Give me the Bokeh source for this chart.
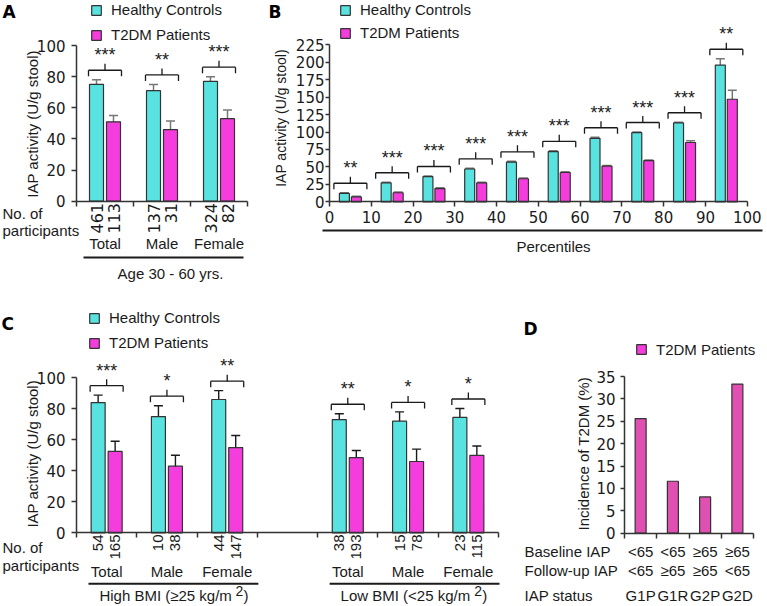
from math import pi
from bokeh.plotting import figure
from bokeh.models import (ColumnDataSource, LinearAxis, FixedTicker, Range1d,
                          Whisker, TeeHead, Legend, LegendItem)
from bokeh.layouts import column, row
from bokeh.embed import file_html
from bokeh.resources import INLINE
from bokeh.core.properties import value

# ---------------- data ----------------
# Panel A
a_groups = ["Total", "Male", "Female"]
a_healthy = [75, 71, 77]
a_healthy_err = [3, 4, 3]
a_t2dm = [51, 46, 53]
a_t2dm_err = [4, 5.5, 5.5]
a_n_healthy = ["461", "137", "324"]
a_n_t2dm = ["113", "31", "82"]
a_sig = ["***", "**", "***"]
a_yticks = [0, 20, 40, 60, 80, 100]

# Panel B (deciles of IAP activity)
b_bin_start = [0, 10, 20, 30, 40, 50, 60, 70, 80, 90]
b_healthy = [12, 27, 36, 47, 57, 72, 91, 99, 113, 196]
b_healthy_err = [1, 1, 1, 1, 1, 1, 1.5, 1, 1, 9]
b_t2dm = [7, 13, 19, 27, 33, 42, 51, 59, 85, 147]
b_t2dm_err = [1, 1, 1, 1, 1, 1, 1, 1, 2.5, 13]
b_sig = ["**", "***", "***", "***", "***", "***", "***", "***", "***", "**"]
b_xticks = [0, 10, 20, 30, 40, 50, 60, 70, 80, 90, 100]
b_yticks = [0, 25, 50, 75, 100, 125, 150, 175, 200, 225]

# Panel C
c_bmi = ["High", "High", "High", "Low", "Low", "Low"]
c_groups = ["Total", "Male", "Female", "Total", "Male", "Female"]
c_healthy = [84, 75, 86, 73, 72, 74.5]
c_healthy_err = [4.8, 7, 5.7, 3.8, 6, 5.7]
c_t2dm = [52.5, 43, 55, 48.5, 46, 50]
c_t2dm_err = [6.6, 7, 7.8, 4.6, 8, 6]
c_n_healthy = ["54", "10", "44", "38", "15", "23"]
c_n_t2dm = ["165", "38", "147", "193", "78", "115"]
c_sig = ["***", "*", "**", "**", "*", "*"]
c_bmi_titles = {"High": "High BMI (\u226525 kg/m", "Low": "Low BMI (<25 kg/m"}
c_yticks = [0, 20, 40, 60, 80, 100]

# Panel D
d_status = ["G1P", "G1R", "G2P", "G2D"]
d_baseline = ["<65", "<65", "\u226565", "\u226565"]
d_followup = ["<65", "\u226565", "\u226565", "<65"]
d_incidence = [25.6, 11.6, 8.1, 33.3]
d_yticks = [0, 5, 10, 15, 20, 25, 30, 35]

# ---------------- style ----------------
CYAN = "#58E2E0"
MAG = "#F43DDC"
DPINK = "#E050B2"
OUT = "#333333"
FONT = "Liberation Sans"
TFONT = "DejaVu Sans"
TXT = "#1a1a1a"


def make_fig(w, h, xmap, ymap):
    xv0, xp0, xv1, xp1 = xmap
    sx = (xp1 - xp0) / (xv1 - xv0)
    xs = xv0 - xp0 / sx
    xe = xs + w / sx
    yv0, yp0, yv1, yp1 = ymap
    sy = (yp0 - yp1) / (yv1 - yv0)
    ye = yv0 + yp0 / sy
    ys = ye - h / sy
    p = figure(width=w, height=h, x_range=Range1d(xs, xe), y_range=Range1d(ys, ye),
               output_backend="svg", toolbar_location=None, title=None,
               x_axis_type=None, y_axis_type=None, min_border=0,
               outline_line_color=None, background_fill_color="white",
               border_fill_color="white")
    X = lambda px: xs + px / sx
    Y = lambda py: ye - py / sy
    DX = lambda d: d / sx
    DY = lambda d: d / sy
    return p, X, Y, DX, DY


def add_axes(p, xbounds, xticks, ybounds, yticks, xlabels, ytick_out=5, ytick_standoff=6):
    xa = LinearAxis(fixed_location=0, bounds=xbounds, ticker=FixedTicker(ticks=xticks))
    ya = LinearAxis(fixed_location=0, bounds=ybounds, ticker=FixedTicker(ticks=yticks))
    for a in (xa, ya):
        a.axis_line_color = OUT
        a.axis_line_width = 1.5
        a.major_tick_line_color = OUT
        a.major_tick_line_width = 1.5
        a.major_tick_in = 0
        a.major_tick_out = 5
        a.minor_tick_out = 0
        a.minor_tick_in = 0
        a.major_label_text_font = TFONT
        a.major_label_text_font_size = "15px"
        a.major_label_text_color = TXT
    ya.major_tick_out = ytick_out
    ya.major_label_standoff = ytick_standoff
    xa.major_label_standoff = 4
    if not xlabels:
        xa.major_label_text_color = None
    p.add_layout(xa, "below")
    p.add_layout(ya, "left")


def txt(p, x, y, t, size="15px", align="center", baseline="middle", angle=0,
        style="normal", font=FONT, color=TXT):
    p.text(x=x, y=y, text=t, text_font=value(font), text_font_size=size,
           text_align=align, text_baseline=baseline, angle=angle,
           text_font_style=style, text_color=color)


def bars(p, xc, xm, hv, he, tv, te, bw, err_color, err_w, head):
    sh = ColumnDataSource(dict(x=xc, top=hv, up=[v + e for v, e in zip(hv, he)],
                               lo=[v - e for v, e in zip(hv, he)]))
    st = ColumnDataSource(dict(x=xm, top=tv, up=[v + e for v, e in zip(tv, te)],
                               lo=[v - e for v, e in zip(tv, te)]))
    rh = p.vbar(x="x", top="top", width=bw, bottom=0, source=sh, fill_color=CYAN,
                line_color=OUT, line_width=1.2)
    rt = p.vbar(x="x", top="top", width=bw, bottom=0, source=st, fill_color=MAG,
                line_color=OUT, line_width=1.2)
    for s in (sh, st):
        p.add_layout(Whisker(base="x", upper="up", lower="lo", source=s,
                             line_color=err_color, line_width=err_w,
                             upper_head=TeeHead(size=head, line_color=err_color, line_width=err_w),
                             lower_head=TeeHead(size=head, line_color=err_color, line_width=err_w)))
    return rh, rt


def brackets(p, centers, tops, sig, DX, DY):
    x0, y0, x1, y1 = [], [], [], []
    sx_, sy_ = [], []
    for c, t in zip(centers, tops):
        yb = t + DY(9.5)
        l, r = c - DX(16.5), c + DX(16.5)
        x0 += [l, l, r, c]
        x1 += [r, l, r, c]
        y0 += [yb, yb, yb, yb]
        y1 += [yb, yb - DY(6), yb - DY(6), yb + DY(6.5)]
        sx_.append(c)
        sy_.append(yb + DY(15))
    p.segment(x0=x0, y0=y0, x1=x1, y1=y1, line_color=TXT, line_width=1.3)
    txt(p, sx_, sy_, sig, size="18px", baseline="alphabetic")


def legend(p, items, loc, spacing):
    lg = Legend(items=items, location=loc, padding=0, margin=0, spacing=spacing,
                glyph_width=12, glyph_height=12, label_height=16, label_standoff=9,
                border_line_color=None, background_fill_alpha=0,
                inactive_fill_alpha=0,
                label_text_font=FONT, label_text_font_size="15px",
                label_text_color=TXT)
    p.add_layout(lg, "center")


def letter(p, x, y, t):
    txt(p, [x], [y], [t], size="17px", align="left", baseline="top", style="bold",
        font="DejaVu Sans", color="#000000")


# ---------------- Panel A ----------------
WA, HA = 250, 300
pa, X, Y, DX, DY = make_fig(WA, HA, (0, 76, 3, 247), (0, 200.7, 100, 45))
add_axes(pa, (0, 3), [0, 1, 2, 3], (0, 100), a_yticks, False)
ga = [i + 0.5 for i in range(len(a_groups))]
xa_h = [g - DX(8.5) for g in ga]
xa_t = [g + DX(8.5) for g in ga]
rh, rt = bars(pa, xa_h, xa_t, a_healthy, a_healthy_err, a_t2dm, a_t2dm_err, DX(14), "#777777", 1.5, 9)
tops = [max(h + he, t + te) for h, he, t, te in zip(a_healthy, a_healthy_err, a_t2dm, a_t2dm_err)]
brackets(pa, ga, tops, a_sig, DX, DY)
txt(pa, xa_h, [Y(202.5)] * 3, a_n_healthy, size="16px", align="right", angle=pi / 2, font=TFONT)
txt(pa, xa_t, [Y(202.5)] * 3, a_n_t2dm, size="16px", align="right", angle=pi / 2, font=TFONT)
txt(pa, [X(2)], [Y(213)], ["No. of"], align="left")
txt(pa, [X(2)], [Y(230)], ["participants"], align="left")
txt(pa, ga, [Y(243)] * 3, a_groups)
pa.segment(x0=[0 + DX(7)], y0=[Y(257)], x1=[3 - DX(4)], y1=[Y(257)], line_color=TXT, line_width=2)
txt(pa, [X(170)], [Y(273)], ["Age 30 - 60 yrs."])
txt(pa, [X(32)], [Y(123.5)], ["IAP activity (U/g stool)"], angle=pi / 2)
letter(pa, X(2), Y(1), "A")
legend(pa, [LegendItem(label="Healthy Controls", renderers=[rh]),
            LegendItem(label="T2DM Patients", renderers=[rt])], (90, HA - 43), 8)

# ---------------- Panel B ----------------
WB, HB = 517, 300
pb, X, Y, DX, DY = make_fig(WB, HB, (0, 79, 100, 496.7), (0, 201.3, 225, 44.3))
add_axes(pb, (0, 100), b_xticks, (0, 225), b_yticks, True, 4, 1)
gb = [s + 5 for s in b_bin_start]
xb_h = [g - DX(6) for g in gb]
xb_t = [g + DX(6) for g in gb]
rh, rt = bars(pb, xb_h, xb_t, b_healthy, b_healthy_err, b_t2dm, b_t2dm_err, DX(10), "#777777", 1.5, 9)
tops = [max(h + he, t + te) for h, he, t, te in zip(b_healthy, b_healthy_err, b_t2dm, b_t2dm_err)]
brackets(pb, gb, tops, b_sig, DX, DY)
pb.segment(x0=[X(72)], y0=[Y(230)], x1=[X(512)], y1=[Y(230)], line_color=TXT, line_width=2)
txt(pb, [X(303)], [Y(246)], ["Percentiles"])
txt(pb, [X(30)], [Y(117.5)], ["IAP activity (U/g stool)"], size="14px", angle=pi / 2)
letter(pb, X(18), Y(1), "B")
legend(pb, [LegendItem(label="Healthy Controls", renderers=[rh]),
            LegendItem(label="T2DM Patients", renderers=[rt])], (89, HB - 41), 6)

# ---------------- Panel C ----------------
WC, HC = 515, 306
pc, X, Y, DX, DY = make_fig(WC, HC, (0, 76, 7, 498), (0, 232.3, 100, 77.3))
add_axes(pc, (0, 7), [0, 1, 2, 3, 4, 5, 6, 7], (0, 100), c_yticks, False)
gc = [i + (1 if b == "Low" else 0) + 0.5 for i, b in enumerate(c_bmi)]
xc_h = [g - DX(8.5) for g in gc]
xc_t = [g + DX(8.5) for g in gc]
rh, rt = bars(pc, xc_h, xc_t, c_healthy, c_healthy_err, c_t2dm, c_t2dm_err, DX(14), "#1a1a1a", 1.4, 9)
tops = [max(h + he, t + te) for h, he, t, te in zip(c_healthy, c_healthy_err, c_t2dm, c_t2dm_err)]
brackets(pc, gc, tops, c_sig, DX, DY)
txt(pc, xc_h, [Y(234)] * 6, c_n_healthy, size="15px", align="right", angle=pi / 2)
txt(pc, xc_t, [Y(234)] * 6, c_n_t2dm, size="15px", align="right", angle=pi / 2)
txt(pc, [X(2)], [Y(247)], ["No. of"], align="left")
txt(pc, [X(2)], [Y(265)], ["participants"], align="left")
txt(pc, gc, [Y(271)] * 6, c_groups)
for b in ("High", "Low"):
    gs = [g for g, bb in zip(gc, c_bmi) if bb == b]
    lft, rgt = min(gs) - 0.5 + DX(12), max(gs) + 0.5 + DX(1)
    pc.segment(x0=[lft], y0=[Y(283.3)], x1=[rgt], y1=[Y(283.3)], line_color=TXT, line_width=2)
    mid = (lft + rgt) / 2
    start = mid - DX(74)
    txt(pc, [start], [Y(295)], [c_bmi_titles[b]], align="left")
    wmain = 132 if b == "High" else 129.6
    txt(pc, [start + DX(wmain + 4)], [Y(290)], ["2"], size="14px", align="left")
    txt(pc, [start + DX(wmain + 12)], [Y(295)], [")"], align="left")
txt(pc, [X(31.7)], [Y(153.3)], ["IAP activity (U/g stool)"], angle=pi / 2)
letter(pc, X(1), Y(13), "C")
legend(pc, [LegendItem(label="Healthy Controls", renderers=[rh]),
            LegendItem(label="T2DM Patients", renderers=[rt])], (88, HC - 11 - 40), 8)

# ---------------- Panel D ----------------
WD, HD = 252, 306
pd_, X, Y, DX, DY = make_fig(WD, HD, (0, 109, 4, 238), (0, 232.7, 35, 76))
add_axes(pd_, (0, 4), [0, 1, 2, 3, 4], (0, 35), d_yticks, False, 4, 5)
gd = [i + 0.5 for i in range(len(d_status))]
pd_.vbar(x=gd, top=d_incidence, width=DX(11), bottom=0, fill_color=DPINK,
         line_color=OUT, line_width=1.2)
key = pd_.vbar(x=gd, top=d_incidence, width=DX(11), bottom=0, fill_color=MAG,
               line_color=OUT, line_width=1.2, visible=False)
txt(pd_, [X(9)], [Y(250.7)], ["Baseline IAP"], align="left")
txt(pd_, [X(9)], [Y(270)], ["Follow-up IAP"], align="left")
txt(pd_, [X(9)], [Y(295)], ["IAP status"], align="left")
txt(pd_, gd, [Y(250.7)] * 4, d_baseline)
txt(pd_, gd, [Y(270)] * 4, d_followup)
txt(pd_, gd, [Y(295)] * 4, d_status)
txt(pd_, [X(68)], [Y(153.3)], ["Incidence of T2DM (%)"], angle=pi / 2)
letter(pd_, X(8), Y(18), "D")
legend(pd_, [LegendItem(label="T2DM Patients", renderers=[key])], (120, HD - 41.5 - 16), 5)

layout = column(row(pa, pb), row(pc, pd_))
open("out.html", "w").write(file_html(layout, INLINE))
